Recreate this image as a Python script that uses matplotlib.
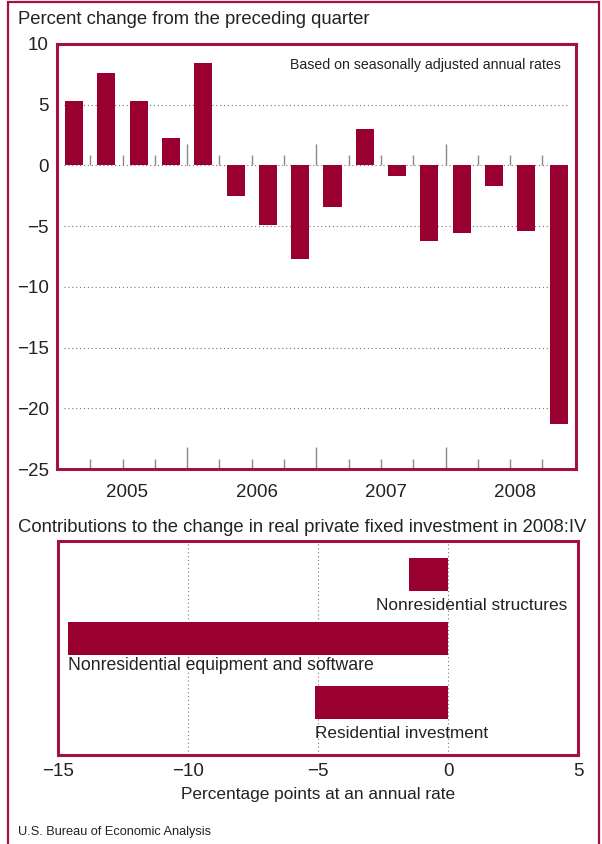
import matplotlib
matplotlib.use("Agg")
import matplotlib.pyplot as plt
from matplotlib.patches import Rectangle
import numpy as np

# === DATA ===
years = ["2005", "2006", "2007", "2008"]
quarterly_change = [5.3, 7.6, 5.3, 2.3, 8.4, -2.5, -4.9, -7.7,
                    -3.4, 3.0, -0.9, -6.2, -5.6, -1.7, -5.4, -21.3]
components = ["Nonresidential structures",
              "Nonresidential equipment and software",
              "Residential investment"]
contributions = [-1.5, -14.6, -5.1]
top_yticks = [10, 5, 0, -5, -10, -15, -20, -25]
bottom_xticks = [-15, -10, -5, 0, 5]

# === STYLE ===
BAR = "#990030"
FRAME = "#a3123d"
GRID = "#777777"
TXT = "#222222"
plt.rcParams["font.family"] = ["Liberation Sans", "DejaVu Sans"]
NARROW = ["Liberation Sans Narrow", "Liberation Sans", "DejaVu Sans"]


def minus(v):
    return str(v).replace("-", "\u2212")


fig = plt.figure(figsize=(6.02, 8.44), dpi=100)
W, H = 602.0, 844.0

# outer border
fig.patches.append(Rectangle((8 / W, -0.05), 591 / W, 1.05 - 1.5 / H,
                             transform=fig.transFigure, fill=False,
                             edgecolor=FRAME, linewidth=1.6))

fig.text(18 / W, 1 - 19 / H, "Percent change from the preceding quarter",
         fontsize=13.3, color=TXT, va="center", ha="left")

# --- top chart ---
ax = fig.add_axes([57 / W, 1 - 469 / H, (576 - 57) / W, (469 - 44) / H])
x = np.arange(len(quarterly_change))
ax.bar(x, quarterly_change, width=0.56, color=BAR, zorder=3)
ax.set_xlim(-0.53, 15.54)
ax.set_ylim(-25, 10)
for v in top_yticks[1:-1]:
    ax.hlines(v, -0.3, 15.3, colors=GRID, linestyles=(0, (1, 2.5)),
              linewidth=0.8, zorder=1)

# quarter separators at the zero line and along the bottom
for b in np.arange(0.5, len(quarterly_change) - 1, 1.0):
    major = int(b + 0.5) % 4 == 0
    h = 1.8 if major else 0.85
    ax.vlines(b, 0, h, colors="#888888", linewidth=1.0, zorder=2)
    ax.vlines(b, -25, -25 + h, colors="#888888", linewidth=1.0, zorder=2)

ax.set_yticks(top_yticks)
ax.set_yticklabels([minus(v) for v in top_yticks], fontsize=13.5, color=TXT)
ax.tick_params(axis="y", length=0, pad=6)
ax.set_xticks([1.65 + 4 * i for i in range(len(years))])
ax.set_xticklabels(years, fontsize=13.5, color=TXT)
ax.tick_params(axis="x", length=0, pad=11)
for s in ax.spines.values():
    s.set_color(FRAME)
    s.set_linewidth(2.2)
ax.text(0.97, 0.95, "Based on seasonally adjusted annual rates",
        transform=ax.transAxes, ha="right", va="center", fontsize=10.2,
        family=NARROW, color=TXT)

# --- bottom chart ---
fig.text(18 / W, 1 - 528 / H,
         "Contributions to the change in real private fixed investment in 2008:IV",
         fontsize=13.3, color=TXT, va="center", ha="left")

ax2 = fig.add_axes([58 / W, 1 - 755 / H, (578 - 58) / W, (755 - 541) / H])
ypos = np.arange(len(contributions))
ax2.barh(ypos, contributions, height=0.52, color=BAR, zorder=3)
ax2.set_xlim(-15, 5)
ax2.set_ylim(2.82, -0.52)
for v in [-10, -5, 0]:
    ax2.axvline(v, color=GRID, linestyle=(0, (1, 2.5)), linewidth=0.8, zorder=1)

ax2.text(4.6, 0.48, components[0], ha="right", va="center", fontsize=12.4, color=TXT, zorder=4)
ax2.text(-14.6, 1.43, components[1], ha="left", va="center", fontsize=12.7, color=TXT, zorder=4)
ax2.text(-5.1, 2.48, components[2], ha="left", va="center", fontsize=12.3, color=TXT, zorder=4)

ax2.set_yticks([])
ax2.set_xticks(bottom_xticks)
ax2.set_xticklabels([minus(v) for v in bottom_xticks], fontsize=13.5, color=TXT)
ax2.tick_params(axis="x", length=0, pad=6)
ax2.set_xlabel("Percentage points at an annual rate", fontsize=12.4, color=TXT, labelpad=5)
for s in ax2.spines.values():
    s.set_color(FRAME)
    s.set_linewidth(2.2)

fig.text(18 / W, 1 - 832 / H, "U.S. Bureau of Economic Analysis",
         fontsize=9.2, family=NARROW, color=TXT, va="center", ha="left")

fig.savefig("out.png", dpi=100)
